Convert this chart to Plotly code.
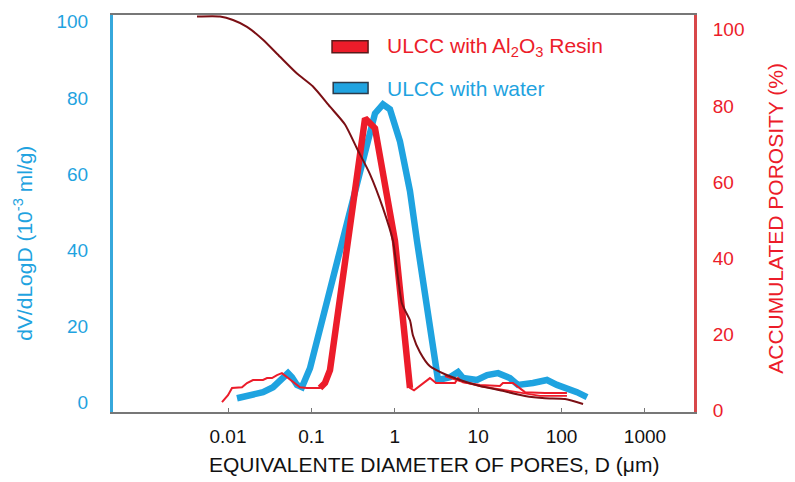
import plotly.graph_objects as go

# ---------------- data ----------------
# ULCC with water: dV/dLogD (10^-3 ml/g) vs pore diameter (um)
water_d = [0.01282, 0.01835, 0.0263, 0.0347, 0.0443, 0.0524, 0.0585, 0.0672, 0.0771,
           0.0962, 0.220, 0.477, 0.579, 0.722, 0.875, 1.153, 1.521, 1.845, 3.30,
           4.59, 5.73, 6.58, 9.68, 12.8, 17.3, 24.0, 30.0, 45.4, 66.8, 88.1, 116, 153, 202]
water_v = [1.0, 1.8, 2.6, 3.9, 5.8, 7.6, 6.5, 4.5, 3.9,
           8.9, 39.8, 68.6, 75.9, 78.3, 77.0, 68.6, 55.5, 42.4, 5.8,
           6.5, 7.9, 6.3, 5.8, 7.1, 7.6, 6.3, 4.5, 5.0, 5.8, 4.5, 3.7, 2.6, 1.3]

# ULCC with Al2O3 Resin: dV/dLogD (10^-3 ml/g)
resin_d = [0.00847, 0.0100, 0.01117, 0.01472, 0.0169, 0.01995, 0.0263, 0.0294, 0.0337,
           0.0387, 0.0443, 0.0510, 0.0601, 0.0730, 0.0885, 0.1268, 0.1456, 0.167,
           0.440, 0.579, 0.806, 1.005, 1.521, 1.70, 2.64, 3.12, 5.27, 5.73,
           6.58, 10.5, 18.2, 19.8, 26.1, 36.4, 63.2, 116]
resin_v = [0.0, 1.8, 3.7, 3.9, 5.0, 5.8, 5.8, 6.3, 6.3,
           7.1, 7.6, 6.5, 5.2, 3.9, 3.7, 3.7, 5.0, 8.4,
           74.6, 72.0, 55.5, 42.4, 3.7, 3.1, 6.3, 5.0, 5.0, 6.3,
           5.2, 4.5, 4.2, 5.0, 5.0, 2.6, 2.4, 2.4]
resin_peak_start = 15   # index range drawn with the thick stroke
resin_peak_end = 23

# Accumulated porosity (%)
cum_d = [0.00425, 0.00802, 0.01148, 0.0169, 0.0263, 0.0421, 0.0672, 0.1045, 0.167,
         0.253, 0.352, 0.505, 0.722, 0.951, 1.219, 1.521, 1.652, 2.004, 2.64,
         4.00, 6.05, 10.5, 18.2, 36.4, 63.2, 110, 181]
cum_v = [103.5, 103.5, 102.6, 100.8, 97.4, 92.9, 88.5, 85.1, 79.8,
         75.1, 68.8, 62.0, 53.1, 44.5, 28.0, 23.6, 19.6, 15.2, 11.5,
         9.4, 7.9, 6.3, 5.2, 3.7, 3.1, 2.9, 1.6]

# second thin red tail (accumulated porosity, resin)
cum2_d = [4.00, 6.05, 10.5, 18.2, 31.7, 55.1, 116]
cum2_v = [8.9, 7.6, 6.3, 5.5, 4.5, 3.7, 3.7]

x_ticks = [0.01, 0.1, 1, 10, 100, 1000]
x_ticktext = ["0.01", "0.1", "1", "10", "100", "1000"]
y_ticks = [0, 20, 40, 60, 80, 100]

BLUE = "#1fa3e0"
RED = "#ec1c2a"
MAROON = "#7b0f14"
FONT = "Liberation Sans, Arial, sans-serif"

fig = go.Figure()

fig.add_trace(go.Scatter(x=water_d, y=water_v, mode="lines",
                         line=dict(color=BLUE, width=6.5), showlegend=False))
fig.add_trace(go.Scatter(x=resin_d, y=resin_v, mode="lines",
                         line=dict(color=RED, width=2), showlegend=False))
fig.add_trace(go.Scatter(x=resin_d[resin_peak_start:resin_peak_end],
                         y=resin_v[resin_peak_start:resin_peak_end], mode="lines",
                         line=dict(color=RED, width=6.5), showlegend=False))
fig.add_trace(go.Scatter(x=cum2_d, y=cum2_v, mode="lines", yaxis="y2",
                         line=dict(color=RED, width=1.8), showlegend=False))
fig.add_trace(go.Scatter(x=cum_d, y=cum_v, mode="lines", yaxis="y2",
                         line=dict(color=MAROON, width=2, shape="spline", smoothing=0.6),
                         showlegend=False))

fig.update_layout(
    width=795, height=482,
    margin=dict(l=113, r=101, t=13, b=70),
    paper_bgcolor="white", plot_bgcolor="white",
    font=dict(family=FONT, size=19),
    xaxis=dict(type="log", range=[-3.379, 3.588], tickvals=x_ticks, ticktext=x_ticktext,
               showgrid=False, zeroline=False, showline=True, linecolor="#777777",
               linewidth=2, mirror=True, ticks="inside", ticklen=4, tickcolor="#777777",
               tickfont=dict(color="#111111", size=19), ticklabelstandoff=6),
    yaxis=dict(range=[-2.62, 101.8], tickvals=y_ticks, showgrid=False, zeroline=False,
               showline=True, linecolor="#36a8dc", linewidth=3, ticks="",
               tickfont=dict(color=BLUE, size=19), ticklabelstandoff=18),
    yaxis2=dict(range=[-0.52, 103.9], tickvals=y_ticks, overlaying="y", side="right",
                showgrid=False, zeroline=False, showline=True, linecolor="#d8474a",
                linewidth=3, ticks="", tickfont=dict(color=RED, size=19),
                ticklabelstandoff=12),
    shapes=[
        dict(type="rect", xref="paper", yref="paper", x0=0.377, x1=0.439, y0=0.905, y1=0.935,
             fillcolor=RED, line=dict(color="#5a1a1a", width=1.5)),
        dict(type="rect", xref="paper", yref="paper", x0=0.379, x1=0.439, y0=0.802, y1=0.830,
             fillcolor=BLUE, line=dict(color="#2a3a4a", width=1.5)),
    ],
    annotations=[
        dict(text="ULCC with Al<sub>2</sub>O<sub>3</sub> Resin", xref="paper", yref="paper",
             x=0.468, y=0.920, xanchor="left", yanchor="middle", showarrow=False,
             font=dict(color=RED, size=21)),
        dict(text="ULCC with water", xref="paper", yref="paper",
             x=0.468, y=0.8145, xanchor="left", yanchor="middle", showarrow=False,
             font=dict(color=BLUE, size=21)),
        dict(text="EQUIVALENTE DIAMETER OF PORES, D (μm)", xref="paper", yref="paper",
             x=0.5525, y=-0.133, xanchor="center", yanchor="middle", showarrow=False,
             font=dict(color="#111111", size=21)),
        dict(text="dV/dLogD (10<sup>-3</sup> ml/g)", xref="paper", yref="paper",
             x=-0.155, y=0.426, xanchor="center", yanchor="middle", showarrow=False,
             textangle=-90, font=dict(color=BLUE, size=21)),
        dict(text="ACCUMULATED POROSITY (%)", xref="paper", yref="paper",
             x=1.141, y=0.489, xanchor="center", yanchor="middle", showarrow=False,
             textangle=-90, font=dict(color=RED, size=21)),
    ],
)

fig.write_html("out.html", config={"displayModeBar": False},
               post_script="document.body.style.margin='0px';document.body.style.overflow='hidden';")
